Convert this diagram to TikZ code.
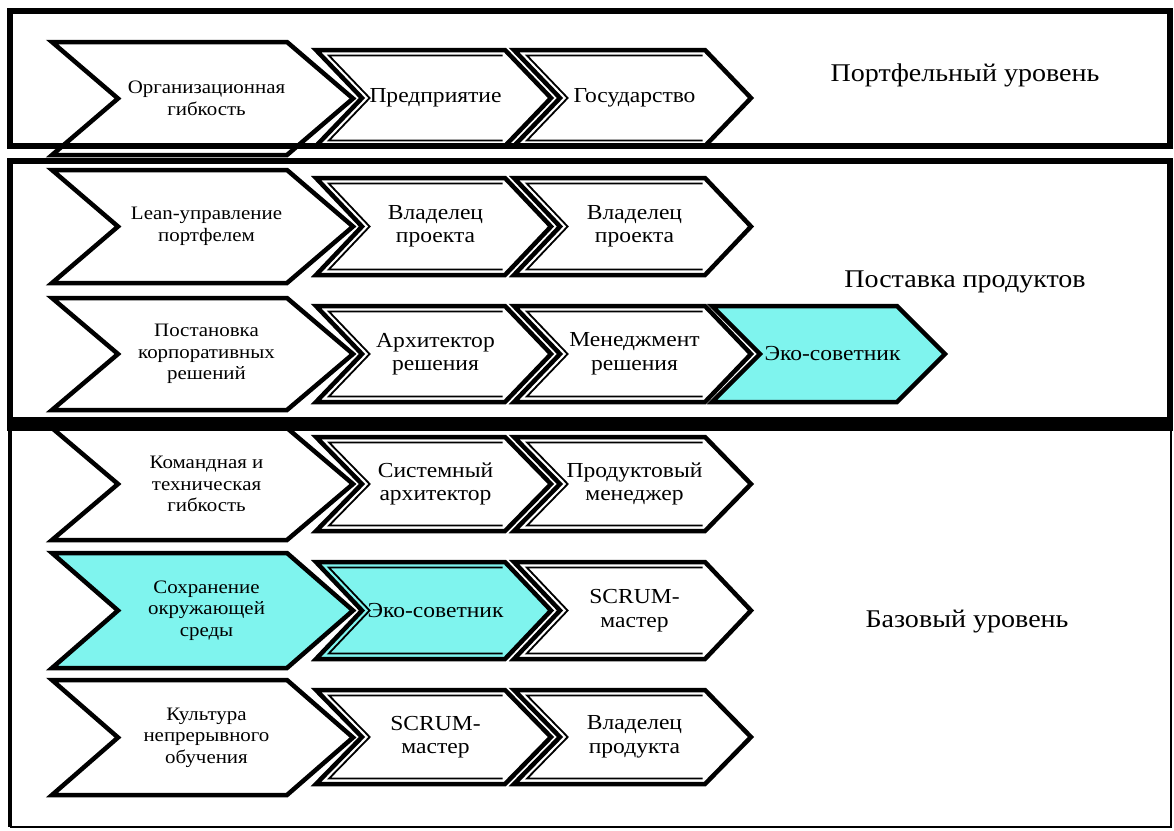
\documentclass[tikz,border=0pt]{standalone}
\usepackage{fontspec}
\setmainfont[FakeStretch=1.1]{Liberation Serif}
\definecolor{ecocyan}{RGB}{127,244,238}
\tikzset{
  chevline/.style={line width=4.5pt, line join=miter, draw=black},
  chevinner/.style={line width=1.8pt, line join=miter, draw=black},
  smalltxt/.style={align=center, inner sep=0pt, font=\fontsize{19}{21.5}\selectfont},
  midtxt/.style={align=center, inner sep=0pt, font=\fontsize{21.4}{23.5}\selectfont},
  leveltxt/.style={inner sep=0pt, font=\fontsize{25.5}{28}\selectfont},
  framethick/.style={line width=6pt, draw=black},
}
% #1 name, #2 x0, #3 ytop, #4 xr, #5 ybot, #6 depth, #7 fill, #8 text style, #9 text
\newcommand\chevsingle[9]{%
  \pgfmathsetmacro\cym{(#3+#5)/2}%
  \filldraw[chevline, fill=#7] (#2,#3) -- (#4,#3) -- ({#4+#6},\cym) -- (#4,#5) -- (#2,#5) -- ({#2+#6},\cym) -- cycle;
  \node[#8] (#1) at ({(#2+#6+#4)/2+4},\cym) {#9};
}
\newcommand\chevdouble[9]{%
  \pgfmathsetmacro\cym{(#3+#5)/2}%
  \pgfmathsetmacro\chh{(#5-#3)/2}%
  \pgfmathsetmacro\ce{5.5}%
  \pgfmathsetmacro\cs{\ce*sqrt(#6*#6+\chh*\chh)/\chh}%
  \pgfmathsetmacro\cdx{#6*\ce/\chh}%
  \filldraw[chevline, fill=#7] (#2,#3) -- (#4,#3) -- ({#4+#6},\cym) -- (#4,#5) -- (#2,#5) -- ({#2+#6},\cym) -- cycle;
  \draw[chevinner] ({#4-\cs+\cdx},{#3+\ce}) -- ({#2+\cs+\cdx},{#3+\ce}) -- ({#2+#6+\cs},\cym) -- ({#2+\cs+\cdx},{#5-\ce}) -- ({#4-\cs+\cdx},{#5-\ce});
  \node[#8] (#1) at ({(#2+#6+#4)/2+2},\cym) {#9};
}
\begin{document}
\begin{tikzpicture}[x=1pt,y=-1pt]
\useasboundingbox (0,0) rectangle (1174,830);
\fill[white] (0,0) rectangle (1174,830);

% Row 1
\chevsingle{a1}{52}{42}{287}{155}{66}{white}{smalltxt}{Организационная\\гибкость}
\chevdouble{a2}{316}{50}{505}{146}{46}{white}{midtxt}{Предприятие}
\chevdouble{a3}{514}{50}{705}{146}{46}{white}{midtxt}{Государство}
% Row 2
\chevsingle{b1}{52}{170}{287}{283}{66}{white}{smalltxt}{Lean-управление\\портфелем}
\chevdouble{b2}{316}{178}{505}{275}{46}{white}{midtxt}{Владелец\\проекта}
\chevdouble{b3}{514}{178}{705}{275}{46}{white}{midtxt}{Владелец\\проекта}
% Row 3
\chevsingle{c1}{52}{298}{287}{410}{66}{white}{smalltxt}{Постановка\\корпоративных\\решений}
\chevdouble{c2}{316}{306}{505}{402}{46}{white}{midtxt}{Архитектор\\решения}
\chevdouble{c3}{514}{306}{705}{402}{46}{white}{midtxt}{Менеджмент\\решения}
\chevsingle{c4}{712}{306}{897}{402}{48}{ecocyan}{midtxt}{Эко-советник}
% Row 4
\chevsingle{d1}{52}{428}{287}{540}{66}{white}{smalltxt}{Командная и\\техническая\\гибкость}
\chevdouble{d2}{316}{437}{505}{531}{46}{white}{midtxt}{Системный\\архитектор}
\chevdouble{d3}{514}{437}{705}{531}{46}{white}{midtxt}{Продуктовый\\менеджер}
% Row 5
\chevsingle{e1}{52}{553}{287}{668}{66}{ecocyan}{smalltxt}{Сохранение\\окружающей\\среды}
\chevdouble{e2}{316}{562}{505}{659}{46}{ecocyan}{midtxt}{Эко-советник}
\chevdouble{e3}{514}{562}{705}{659}{46}{white}{midtxt}{SCRUM-\\мастер}
% Row 6
\chevsingle{f1}{52}{680}{287}{795}{66}{white}{smalltxt}{Культура\\непрерывного\\обучения}
\chevdouble{f2}{316}{690}{505}{784}{46}{white}{midtxt}{SCRUM-\\мастер}
\chevdouble{f3}{514}{690}{705}{784}{46}{white}{midtxt}{Владелец\\продукта}

% Frames
\draw[framethick] (10,11) rectangle (1170,146);
\draw[framethick] (10,161) rectangle (1170,420);
\fill[black] (7,417) rectangle (1173,431);
\draw[line width=4pt] (10,428) -- (10,827);
\draw[line width=2.5pt] (10,827) -- (1171,827) -- (1171,428);

% Level labels
\node[leveltxt] (lvl1) at (965,75) {Портфельный уровень};
\node[leveltxt] (lvl2) at (965,282) {Поставка продуктов};
\node[leveltxt] (lvl3) at (967,622) {Базовый уровень};
\end{tikzpicture}
\end{document}
